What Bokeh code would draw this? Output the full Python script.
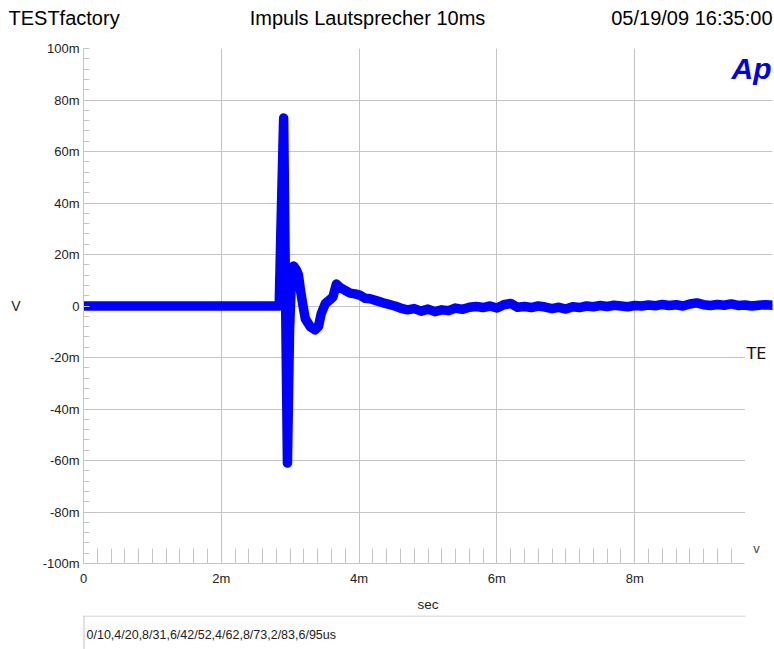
from bokeh.plotting import figure
from bokeh.layouts import column, row
from bokeh.models import (FixedTicker, Label, BoxAnnotation, ColumnDataSource)
from bokeh.embed import file_html
from bokeh.resources import INLINE

# ---- data (time in ms, voltage in mV) ----
t_ms = [0.0, 2.84, 2.87, 2.905, 2.93, 2.96, 2.99, 3.02, 3.05, 3.09, 3.12, 3.15,
        3.18, 3.22, 3.29, 3.36, 3.41, 3.45, 3.51, 3.58, 3.62, 3.67, 3.72, 3.80,
        3.87, 3.94, 4.01, 4.09, 4.16, 4.26, 4.38, 4.52, 4.6, 4.7, 4.8, 4.9,
        5.0, 5.1, 5.2, 5.3, 5.4, 5.5, 5.6, 5.7, 5.8, 5.9, 6.0, 6.1, 6.2, 6.3,
        6.4, 6.5, 6.6, 6.7, 6.8, 6.9, 7.0, 7.1, 7.2, 7.3, 7.4, 7.5, 7.6, 7.7,
        7.8, 7.9, 8.0, 8.1, 8.2, 8.3, 8.4, 8.5, 8.6, 8.7, 8.8, 8.9, 9.0, 9.1,
        9.2, 9.3, 9.4, 9.5, 9.6, 9.7, 9.8, 9.9, 10.0]
v_mV = [0.0, 0.0, 35.0, 73.0, 10.0, -61.0, -10.0, 12.0, 15.5, 14.0, 12.0, 6.0,
        1.0, -5.0, -8.0, -9.3, -8.0, -3.0, 1.0, 2.5, 3.5, 8.5, 7.3, 6.0,
        5.0, 4.7, 4.2, 3.0, 2.8, 2.0, 1.0, 0.0, -0.8, -1.5, -1.0, -2.0,
        -1.2, -2.2, -1.5, -1.8, -0.8, -1.3, -0.5, -0.2, -0.6, 0.0, -0.8, 0.5, 1.0, -0.5,
        -0.2, -0.6, 0.0, -0.4, -1.0, -0.5, -1.2, -0.3, -0.6, 0.0, -0.3, 0.2, -0.2, 0.3,
        0.0, -0.3, 0.2, 0.0, 0.4, 0.1, 0.6, 0.2, 0.5, 0.0, 0.8, 1.2, 0.5, 0.2,
        0.6, 0.3, 0.8, 0.2, 0.4, 0.0, 0.3, 0.5, 0.3]

x_ticks = [0, 2, 4, 6, 8]
x_tick_labels = ["0", "2m", "4m", "6m", "8m"]
x_grid = [0, 2, 4, 6, 8, 10]
x_minor = [round(0.2 * i, 1) for i in range(1, 48)]
y_ticks = [-100, -80, -60, -40, -20, 0, 20, 40, 60, 80, 100]
y_tick_labels = ["-100m", "-80m", "-60m", "-40m", "-20m", "0", "20m", "40m", "60m", "80m", "100m"]
y_minor = list(range(-100, 101, 4))

title_left = "TESTfactory"
title_mid = "Impuls Lautsprecher 10ms"
title_right = "05/19/09 16:35:00"
footer = "0/10,4/20,8/31,6/42/52,4/62,8/73,2/83,6/95us"

FONT = "Liberation Sans"
GRID = "#c4c4c4"
W = 774
H_HEAD = 35
H_MAIN = 580
H_FOOT = 34


def lab(fig, text, x, y, size, align="left", color="black", style="normal", font=FONT):
    fig.add_layout(Label(x=x, y=y, x_units="screen", y_units="screen", text=text,
                         text_font=font, text_font_size=size, text_align=align,
                         text_baseline="middle", text_color=color,
                         text_font_style=style, level="overlay"))


def blank(height):
    f = figure(width=W, height=height, x_axis_type=None, y_axis_type=None,
               x_range=(0, 1), y_range=(0, 1), min_border=0,
               output_backend="svg", toolbar_location=None)
    f.outline_line_color = None
    f.grid.visible = False
    f.background_fill_color = "white"
    f.border_fill_color = "white"
    return f


def sbox(fig, left, right, top, bottom, color):
    fig.add_layout(BoxAnnotation(left=left, right=right, top=top, bottom=bottom,
                                 left_units="screen", right_units="screen",
                                 top_units="screen", bottom_units="screen",
                                 fill_color=color, fill_alpha=1.0, line_color=None))


# ---- header ----
head = blank(H_HEAD)
lab(head, title_left, 8, H_HEAD - 17, "20px")
lab(head, title_mid, 367, H_HEAD - 17, "20px", align="center")
lab(head, title_right, 772, H_HEAD - 17, "20px", align="right")

# ---- main plot ----
p = figure(width=W, height=H_MAIN, x_range=(0, 10), y_range=(-100, 100),
           output_backend="svg", toolbar_location=None,
           min_border_left=83, min_border_right=2, min_border_top=48 - H_HEAD,
           min_border_bottom=52)
p.background_fill_color = "white"
p.border_fill_color = "white"
p.outline_line_color = None

src = ColumnDataSource(dict(t=t_ms, v=v_mV))
p.line("t", "v", source=src, line_color="#0000ff", line_width=9.5,
       line_join="round", line_cap="round")

xa = p.xaxis[0]
xa.ticker = FixedTicker(ticks=x_ticks, minor_ticks=x_minor)
xa.major_label_overrides = {t: l for t, l in zip(x_ticks, x_tick_labels)}
xa.axis_label = "sec"
xa.bounds = (0, 9.6)
ya = p.yaxis[0]
ya.ticker = FixedTicker(ticks=y_ticks, minor_ticks=y_minor)
ya.major_label_overrides = {t: l for t, l in zip(y_ticks, y_tick_labels)}
ya.axis_label = "V"
ya.axis_label_orientation = "horizontal"

for ax in (xa, ya):
    ax.axis_line_color = GRID
    ax.major_tick_line_color = None
    ax.major_tick_in = 0
    ax.major_tick_out = 0
    ax.minor_tick_line_color = GRID
    ax.minor_tick_out = 0
    ax.major_label_text_font = FONT
    ax.major_label_text_font_size = "13px"
    ax.major_label_text_color = "#222222"
    ax.axis_label_text_font = FONT
    ax.axis_label_text_font_style = "normal"
    ax.axis_label_text_color = "#222222"
xa.minor_tick_in = 15
ya.minor_tick_in = 6
xa.major_label_standoff = 7
xa.axis_label_standoff = 8
xa.axis_label_text_font_size = "13.5px"
ya.major_label_standoff = 4
ya.axis_label_standoff = 19
ya.axis_label_text_font_size = "14px"

p.xgrid.ticker = FixedTicker(ticks=x_grid)
p.ygrid.ticker = FixedTicker(ticks=y_ticks)
p.grid.grid_line_color = GRID

# covered lower-right corner
p.add_layout(BoxAnnotation(left=9.6, top=-11, fill_color="white", fill_alpha=1.0,
                           line_color=None, level="overlay"))
lab(p, "Ap", 668, 495, "30px", align="center", color="#0000e0", style="bold italic")
lab(p, "TE", 663, 210, "16px", font="DejaVu Sans", color="#111111")
lab(p, "v", 673, 15, "13px", align="center", color="#444444")

# ---- footer ----
foot = blank(H_FOOT)
sbox(foot, 83, 745, H_FOOT, H_FOOT - 1, GRID)
sbox(foot, 83, 84, H_FOOT, 0, GRID)
lab(foot, footer, 86, H_FOOT - 19, "12.5px", color="#222222")

layout = column(row(head), p, row(foot), spacing=0)
open("out.html", "w").write(file_html(layout, INLINE))
